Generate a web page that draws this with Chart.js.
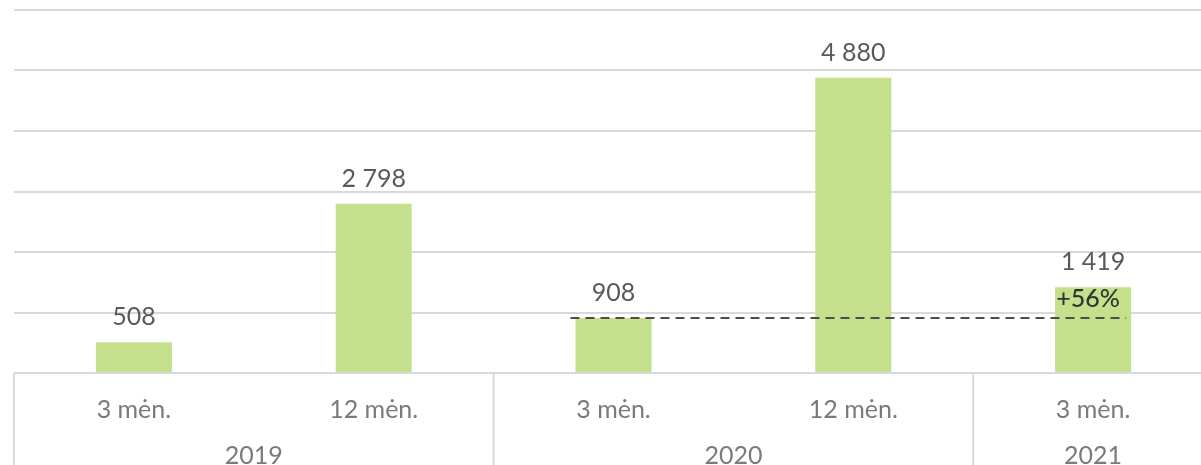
<!DOCTYPE html>
<html>
<head>
<meta charset="utf-8">
<script src="https://cdn.jsdelivr.net/npm/chart.js@4"></script>
<style>
  body { margin: 0; overflow: hidden; background: #fff; }
  #wrap { width: 1230px; height: 465px; }
</style>
</head>
<body>
<div id="wrap"><canvas id="chart"></canvas></div>
<script>
const periods = ['3 mėn.', '12 mėn.', '3 mėn.', '12 mėn.', '3 mėn.'];
const values = [508, 2798, 908, 4880, 1419];
const valueLabels = ['508', '2 798', '908', '4 880', '1 419'];
const years = ['2019', '2020', '2021'];
const yearSizes = [2, 2, 1];
const growthLabel = '+56%';
const yMax = 6000;
const yStep = 1000;

const lineColor = '#d9d9d9';

// value labels, dashed comparison line and year rows
const extras = {
  id: 'extras',
  afterDatasetsDraw(chart) {
    const c = chart.ctx;
    const bars = chart.getDatasetMeta(0).data;
    const y = chart.scales.y;
    const area = chart.chartArea;

    c.save();
    c.font = '25px Lato';
    c.fillStyle = '#595959';
    c.textAlign = 'center';
    c.textBaseline = 'middle';
    bars.forEach((b, i) => {
      c.fillText(valueLabels[i], b.x, b.y - 25);
    });

    // dashed line at the 2020 3 mėn. level
    const from = bars[2], to = bars[4];
    const ly = y.getPixelForValue(values[2]);
    c.strokeStyle = '#4d4d4d';
    c.lineWidth = 2;
    c.setLineDash([9, 6]);
    c.beginPath();
    c.moveTo(from.x - from.width / 2 - 5, ly);
    c.lineTo(to.x + to.width / 2 - 5, ly);
    c.stroke();
    c.setLineDash([]);

    c.font = '500 25px Lato';
    c.fillStyle = '#333';
    c.fillText(growthLabel, to.x - 5, to.y + 12);

    // group separators + year labels
    const x = chart.scales.x;
    c.strokeStyle = lineColor;
    c.lineWidth = 2;
    c.font = '25px Lato';
    c.fillStyle = '#7a7a7a';
    let start = 0;
    let left = area.left;
    yearSizes.forEach((n, g) => {
      const end = start + n - 1;
      const right = end < periods.length - 1
        ? (x.getPixelForValue(end) + x.getPixelForValue(end + 1)) / 2
        : area.right;
      c.beginPath();
      c.moveTo(left, area.bottom);
      c.lineTo(left, chart.height);
      c.stroke();
      c.fillText(years[g], (left + right) / 2, area.bottom + 83);
      left = right;
      start += n;
    });
    c.beginPath();
    c.moveTo(area.right, area.bottom);
    c.lineTo(area.right, chart.height);
    c.stroke();
    c.restore();
  }
};

new Chart(document.getElementById('chart'), {
  type: 'bar',
  data: {
    labels: periods,
    datasets: [{
      data: values,
      backgroundColor: '#c5e08c',
      categoryPercentage: 1,
      barPercentage: 0.317
    }]
  },
  options: {
    responsive: true,
    maintainAspectRatio: false,
    animation: false,
    layout: { padding: { left: 14, right: 17, top: 10 } },
    plugins: { legend: { display: false }, tooltip: { enabled: false } },
    scales: {
      x: {
        grid: { display: false },
        border: { display: false },
        ticks: {
          color: '#7a7a7a',
          font: { family: 'Lato', size: 25 },
          padding: 14
        },
        afterFit(scale) { scale.height = 92; }
      },
      y: {
        min: 0,
        max: yMax,
        ticks: { display: false, stepSize: yStep },
        grid: { color: lineColor, lineWidth: 2, drawTicks: false },
        border: { display: false },
        afterFit(scale) { scale.width = 0; }
      }
    }
  },
  plugins: [extras]
});
</script>
</body>
</html>
